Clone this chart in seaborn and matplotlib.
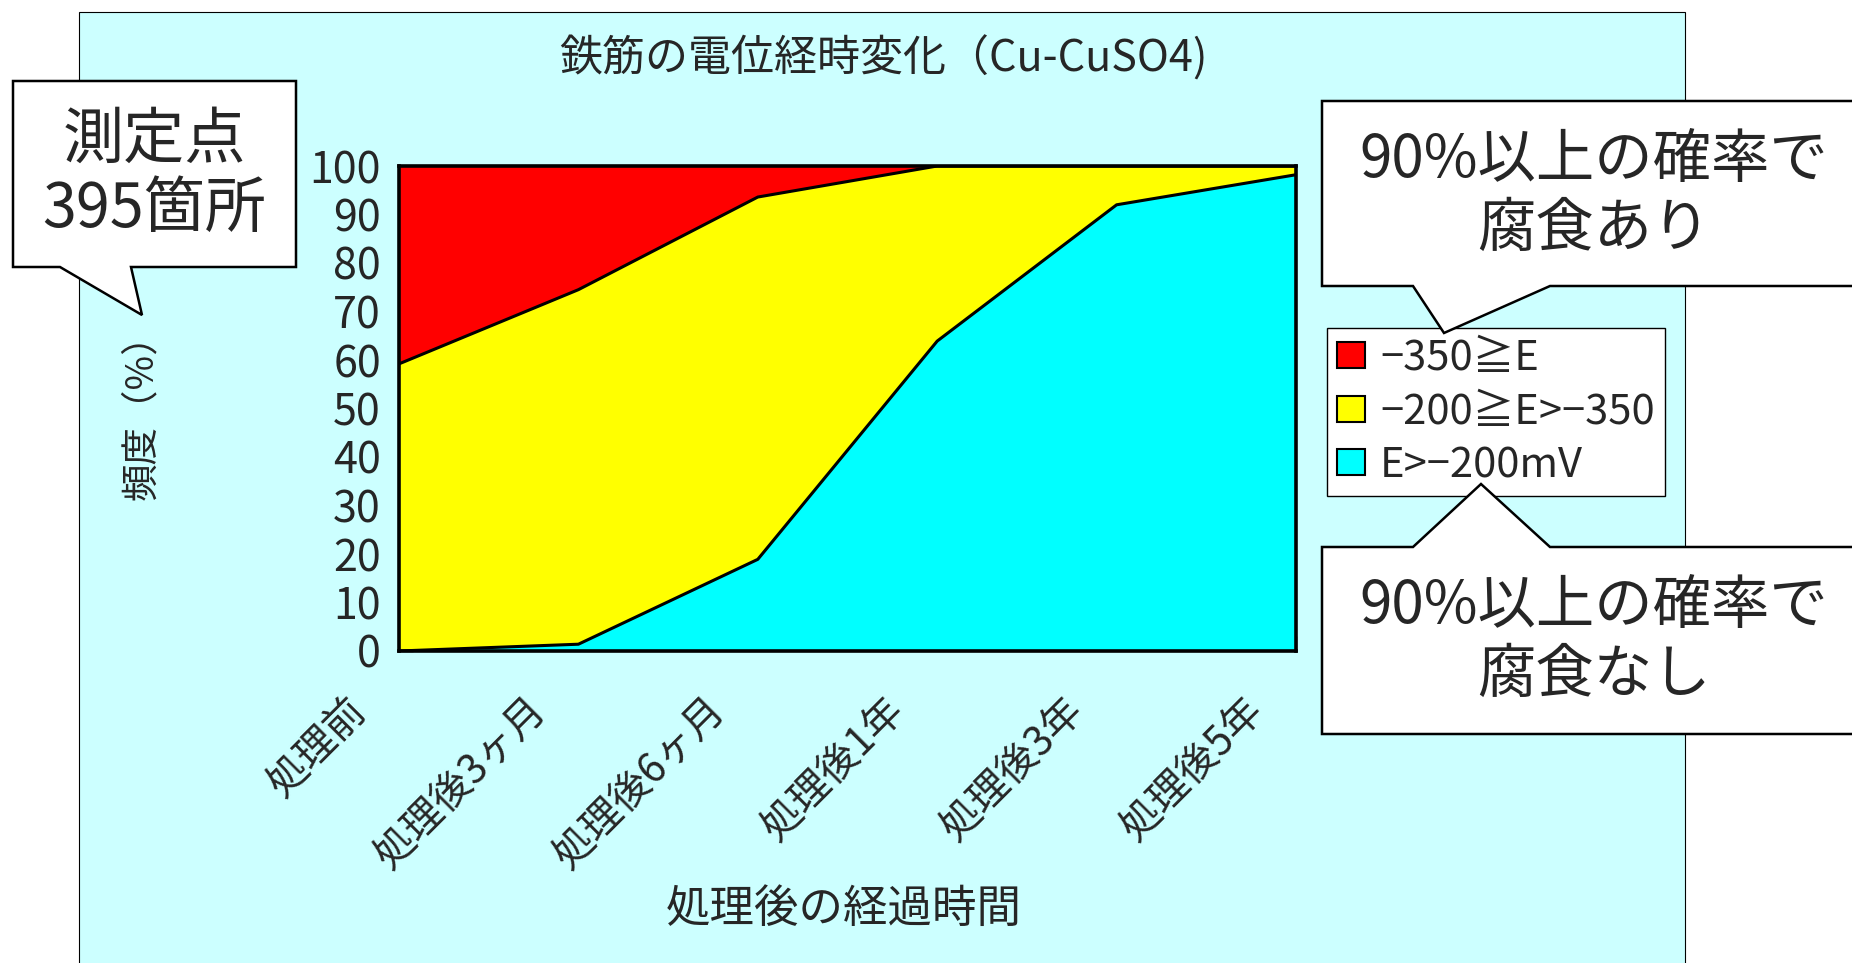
import matplotlib
matplotlib.use("Agg")
import matplotlib.pyplot as plt
import numpy as np
import pandas as pd
import seaborn as sns
from matplotlib.patches import Patch, Polygon, Rectangle
from matplotlib.transforms import ScaledTranslation

# ---- data -------------------------------------------------------------
categories = ["処理前", "処理後3ヶ月", "処理後6ヶ月", "処理後1年", "処理後3年", "処理後5年"]
share_above_m200 = [0.0, 1.4, 18.9, 63.9, 92.0, 98.2]     # E>−200mV
share_m200_m350 = [59.2, 73.1, 74.7, 36.1, 8.0, 1.8]      # −200≧E>−350
share_below_m350 = [40.8, 25.5, 6.4, 0.0, 0.0, 0.0]       # −350≧E
series_labels = ["−350≧E", "−200≧E>−350", "E>−200mV"]
series_colors = ["#FF0000", "#FFFF00", "#00FFFF"]
y_ticks = list(range(0, 101, 10))

title_text = "鉄筋の電位経時変化（Cu-CuSO4)"
x_title = "処理後の経過時間"
y_title = "頻度（%）"
note_points = "測定点\n395箇所"
note_corrosion = "90%以上の確率で\n腐食あり"
note_no_corrosion = "90%以上の確率で\n腐食なし"

# ---- style ------------------------------------------------------------
sns.set_style("white")
plt.rcParams["font.family"] = ["Noto Sans CJK JP", "DejaVu Sans"]

W, H = 1852, 963
fig = plt.figure(figsize=(W / 100, H / 100), dpi=100)
fig.patch.set_facecolor("white")


def fx(px):
    return px / W


def fy(py):
    return 1 - py / H


# light-cyan chart panel
fig.patches.append(Rectangle((fx(79), fy(990)), fx(1685) - fx(79), fy(12) - fy(990),
                             transform=fig.transFigure, facecolor="#CCFFFF",
                             edgecolor="black", linewidth=0.8, zorder=-5))

ax = fig.add_axes([fx(399), fy(651), fx(1296) - fx(399), fy(166) - fy(651)])

x = np.arange(len(categories))
ax.stackplot(x, share_above_m200, share_m200_m350, share_below_m350,
             colors=series_colors[::-1], linewidth=0, zorder=1)

# boundary lines between the bands
lower = np.array(share_above_m200)
upper = lower + np.array(share_m200_m350)
bounds = pd.DataFrame({"x": np.concatenate([x, x]),
                       "y": np.concatenate([lower, upper]),
                       "edge": ["lower"] * len(x) + ["upper"] * len(x)})
sns.lineplot(data=bounds, x="x", y="y", units="edge", estimator=None,
             color="black", linewidth=2.2, ax=ax, legend=False, zorder=3)

ax.set_xlim(0, len(categories) - 1)
ax.set_ylim(0, 100)
ax.set_yticks(y_ticks)
ax.set_xticks(x)
ax.set_xticklabels(categories, rotation=45, ha="right", va="top")
ax.set_xlabel("")
ax.set_ylabel("")
for s in ax.spines.values():
    s.set_linewidth(2.6)
    s.set_color("black")
    s.set_zorder(4)
ax.tick_params(axis="y", direction="in", length=10, width=1, color="black",
               labelsize=31, pad=13, left=True)
ax.tick_params(axis="x", direction="in", length=11, width=1, color="black",
               labelsize=29, pad=28, bottom=True)
shift = ScaledTranslation(-0.24, 0, fig.dpi_scale_trans)
for lab in ax.get_xticklabels():
    lab.set_transform(lab.get_transform() + shift)

fig.text(fx(883), fy(59), title_text, ha="center", va="center", fontsize=31)
fig.text(fx(844), fy(909), x_title, ha="center", va="center", fontsize=32)
fig.text(fx(142), fy(408), y_title, ha="center", va="center", fontsize=27, rotation=90)

# legend
handles = [Patch(facecolor=c, edgecolor="black", linewidth=1.5) for c in series_colors]
leg = ax.legend(handles, series_labels, loc="upper left",
                bbox_to_anchor=(fx(1327), fy(328)), bbox_transform=fig.transFigure,
                fontsize=30, frameon=True, fancybox=False, framealpha=1,
                edgecolor="black", handlelength=0.68, handleheight=0.58,
                handletextpad=0.35, labelspacing=0.3, borderpad=0.24,
                borderaxespad=0)
leg.get_frame().set_linewidth(1.0)
leg.set_zorder(6)


def callout(points, text, tx, ty, size):
    poly = Polygon([(fx(a), fy(b)) for a, b in points], closed=True,
                   transform=fig.transFigure, facecolor="white",
                   edgecolor="black", linewidth=1.8, zorder=10)
    fig.patches.append(poly)
    fig.text(fx(tx), fy(ty), text, ha="center", va="center", fontsize=size,
             linespacing=1.15, zorder=11, multialignment="center")


callout([(13, 81), (296, 81), (296, 267), (131, 267), (142, 315), (60, 267), (13, 267)],
        note_points, 154, 175, 44)
callout([(1322, 101), (1870, 101), (1870, 286), (1550, 286), (1444, 333), (1413, 286),
         (1322, 286)], note_corrosion, 1594, 195, 42)
callout([(1322, 547), (1413, 547), (1481, 484), (1550, 547), (1870, 547), (1870, 734),
         (1322, 734)], note_no_corrosion, 1594, 641, 42)

fig.savefig("out.png", dpi=100)
